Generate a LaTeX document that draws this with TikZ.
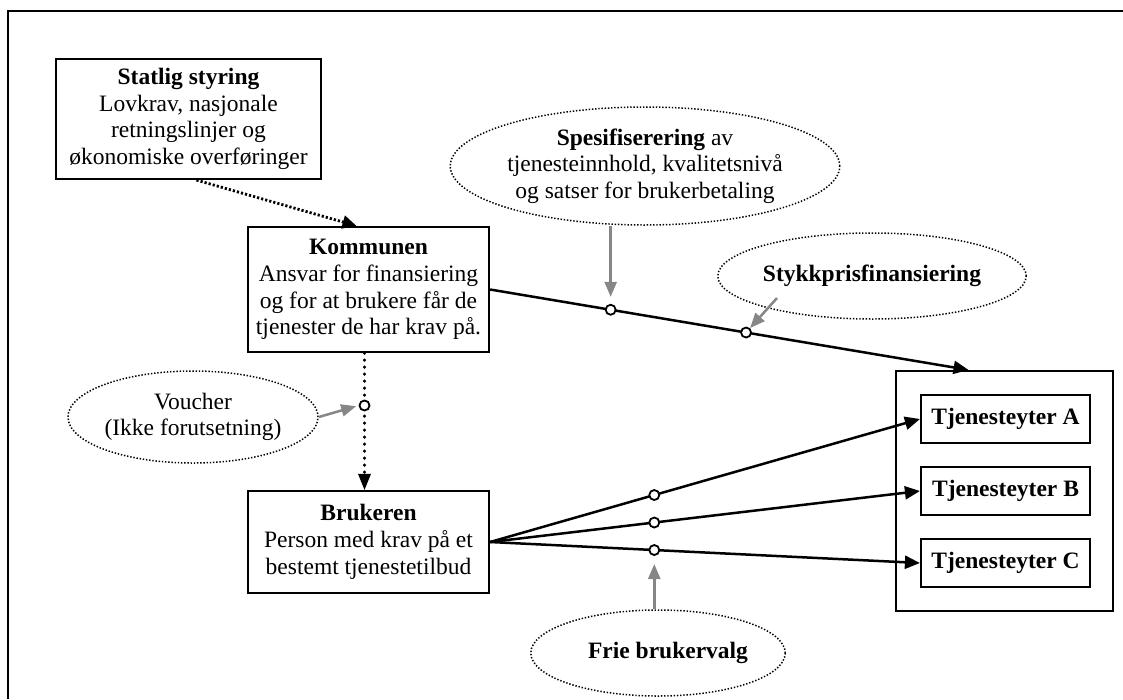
\documentclass[tikz,border=0pt]{standalone}
\usepackage{fontspec}
\setmainfont{Liberation Serif}
\usetikzlibrary{arrows.meta,shapes.geometric,positioning}
\tikzset{
  txt/.style={font=\fontsize{23.5}{26.7}\selectfont, align=center, inner sep=0pt},
  box/.style={txt, draw, line width=2.2pt, rectangle},
  tbox/.style={txt, draw, line width=2.2pt, rectangle, font=\fontsize{23.5}{26.7}\selectfont\bfseries},
  bubble/.style={txt, ellipse, draw, line width=1.5pt, dash pattern=on 1.4pt off 1.8pt},
  junc/.style={circle, draw, solid, line cap=butt, fill=white, inner sep=0pt, minimum size=10pt, line width=1.8pt},
  conn/.style={line width=2.5pt, -{Triangle[length=15pt,width=13pt]}},
  graytip/.style={draw=gray!95, line width=2.5pt, -{Triangle[length=15pt,width=12pt]}, color=gray!95},
  dotsq/.style={line width=2.8pt, dash pattern=on 2.2pt off 2pt, -{Triangle[length=14pt,width=13pt]}},
  dotrd/.style={line width=3.4pt, line cap=round, dash pattern=on 0pt off 7pt}
}
\begin{document}
\begin{tikzpicture}[x=1pt,y=-1pt]
\useasboundingbox (0,0) rectangle (1123,699);
% frame (top and left sides only visible)
\draw[line width=2.2pt] (8,699) -- (8,11) -- (1123,11);

% main boxes
\node[box, minimum width=265pt, minimum height=120pt] (stat) at (188.5,119)
  {\textbf{Statlig styring}\\Lovkrav, nasjonale\\retningslinjer og\\økonomiske overføringer};
\node[box, minimum width=241pt, minimum height=125pt] (komm) at (368.5,289.5)
  {\textbf{Kommunen}\\Ansvar for finansiering\\og for at brukere får de\\tjenester de har krav på.};
\node[box, minimum width=241pt, minimum height=102pt] (bruk) at (368.5,542)
  {\textbf{Brukeren}\\Person med krav på et\\bestemt tjenestetilbud};

% container with providers
\node[draw, line width=2.2pt, minimum width=217pt, minimum height=240pt, inner sep=0pt] (cont) at (1004.5,491) {};
\node[tbox, minimum width=169pt, minimum height=48pt] (tA) at (1005.5,419) {Tjenesteyter A};
\node[tbox, minimum width=169pt, minimum height=48pt] (tB) at (1005.5,491) {Tjenesteyter B};
\node[tbox, minimum width=169pt, minimum height=48pt] (tC) at (1005.5,563) {Tjenesteyter C};

% bubbles
\node[bubble, minimum width=362pt, minimum height=118pt] (spes) at (645,166)
  {\textbf{Spesifiserering} av\\tjenesteinnhold, kvalitetsnivå\\og satser for brukerbetaling};
\node[bubble, minimum width=247pt, minimum height=86pt] (stykk) at (872,276)
  {\textbf{Stykkprisfinansiering}};
\node[bubble, minimum width=225pt, minimum height=92pt] (vouch) at (193,417)
  {Voucher\\(Ikke forutsetning)};
\node[bubble, minimum width=234pt, minimum height=86pt] (frie) at (658,653)
  {\hspace*{20pt}\textbf{Frie brukervalg}};

% connectors
\draw[dotsq] ([xshift=8pt]stat.south) -- ([xshift=-12pt]komm.north);
\draw[dotrd] ([xshift=-4pt]komm.south) -- ([xshift=-4pt,yshift=15pt]bruk.north)
  node[junc, pos=0.43] (jv) {};
\fill ([xshift=-4pt]bruk.north) -- ++(-6.5,-16) -- ++(13,0) -- cycle;
\draw[conn] (komm.east) -- node[junc, pos=0.252] (j1) {} node[junc, pos=0.535] (j2) {} ([xshift=-36pt]cont.north);
\draw[conn] (bruk.east) -- node[junc, pos=0.382] (ja) {} (tA.west);
\draw[conn] (bruk.east) -- node[junc, pos=0.382] (jb) {} (tB.west);
\draw[conn] (bruk.east) -- node[junc, pos=0.382] (jc) {} (tC.west);

% gray pointers
\draw[graytip, shorten >=7pt] (j1 |- spes.south) -- (j1);
\draw[graytip, shorten >=6pt] ([xshift=-95pt,yshift=-22pt]stykk.center) -- (j2.center);
\draw[graytip, shorten >=2.5pt] (vouch.east) -- (jv.west);
\draw[graytip, shorten >=14pt] (jc |- frie.north) -- (jc.center);
\end{tikzpicture}
\end{document}
